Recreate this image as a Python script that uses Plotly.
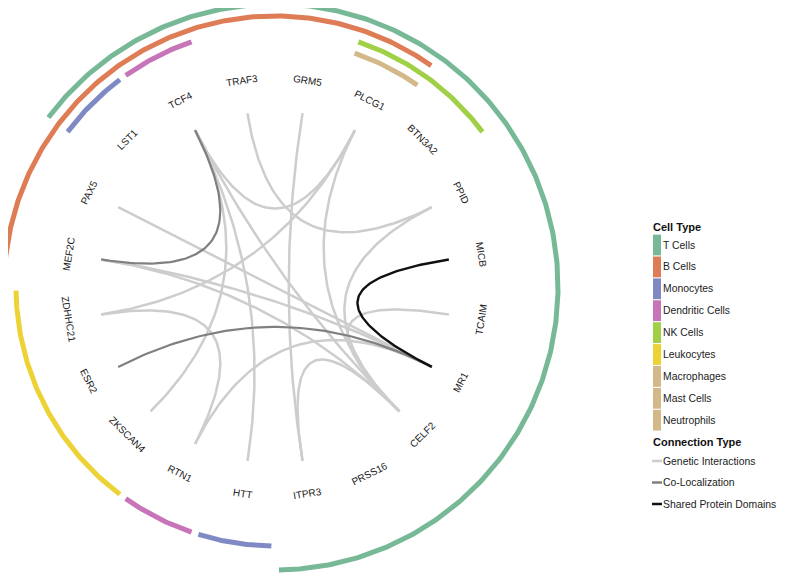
import numpy as np
import plotly.graph_objects as go

# ---------------- data ----------------
genes = ["GRM5", "PLCG1", "BTN3A2", "PPID", "MICB", "TCAIM", "MR1", "CELF2", "PRSS16", "ITPR3",
         "HTT", "RTN1", "ZKSCAN4", "ESR2", "ZDHHC21", "MEF2C", "PAX5", "LST1", "TCF4", "TRAF3"]

cell_types = ["T Cells", "B Cells", "Monocytes", "Dendritic Cells", "NK Cells",
              "Leukocytes", "Macrophages", "Mast Cells", "Neutrophils"]
t_cells = ["LST1", "TCF4", "TRAF3", "GRM5", "PLCG1", "BTN3A2", "PPID", "MICB", "TCAIM",
           "MR1", "CELF2", "PRSS16", "ITPR3"]
b_cells = ["MEF2C", "PAX5", "LST1", "TCF4", "TRAF3", "GRM5", "PLCG1"]
monocytes = ["LST1", "HTT"]
dendritic = ["TCF4", "RTN1"]
nk_cells = ["PLCG1", "BTN3A2"]
leukocytes = ["ZKSCAN4", "ESR2", "ZDHHC21"]
macrophages = ["PLCG1"]
mast_cells = []
neutrophils = []
cell_members = [t_cells, b_cells, monocytes, dendritic, nk_cells, leukocytes,
                macrophages, mast_cells, neutrophils]

connection_types = ["Genetic Interactions", "Co-Localization", "Shared Protein Domains"]
genetic_src = ["TCF4", "TRAF3", "PPID", "TCAIM", "GRM5", "ITPR3", "PLCG1", "ZDHHC21",
               "PAX5", "MEF2C", "MEF2C", "ZDHHC21", "ZKSCAN4", "TCF4", "TCF4", "RTN1"]
genetic_dst = ["PLCG1", "PPID", "CELF2", "CELF2", "ITPR3", "CELF2", "CELF2", "PLCG1",
               "MR1", "CELF2", "MR1", "RTN1", "TCF4", "CELF2", "HTT", "MR1"]
coloc_src = ["TCF4", "ESR2"]
coloc_dst = ["MEF2C", "MR1"]
shared_src = ["MICB"]
shared_dst = ["MR1"]
edge_sets = [(genetic_src, genetic_dst), (coloc_src, coloc_dst), (shared_src, shared_dst)]

# ---------------- styles ----------------
FONT = "Liberation Sans, Arial, Helvetica, sans-serif"
cell_colors = ["#77b996", "#de7c55", "#7f8ac4", "#c874b9", "#9fd046",
               "#edd236", "#d3b98a", "#d3b98a", "#d3b98a"]
ring_radius = {"T Cells": 283, "B Cells": 271, "Monocytes": 259, "Dendritic Cells": 259,
               "NK Cells": 259, "Leukocytes": 259, "Macrophages": 247,
               "Mast Cells": 235, "Neutrophils": 223}
conn_colors = ["#cdcdcd", "#808080", "#111111"]
conn_widths = [2.5, 2.2, 2.4]
R_EDGE = 176
R_LABEL = 209
PAGE_W, PAGE_H = 789, 574
OFF = 8                      # page body margin
W, H = PAGE_W - OFF, PAGE_H - OFF
CX, CY = 275, 287            # circle centre in page pixels

n = len(genes)
step = 360.0 / n
gidx = {g: i for i, g in enumerate(genes)}


def ang(i):
    return step / 2 + step * i


def xy(r, a_deg):
    a = np.radians(a_deg)
    return r * np.sin(a), r * np.cos(a)


fig = go.Figure()

# ---------- edges (quadratic Bezier via centre) ----------
t = np.linspace(0, 1, 80)
for k, (src, dst) in enumerate(edge_sets):
    for s, d in zip(src, dst):
        x0, y0 = xy(R_EDGE, ang(gidx[s]))
        x2, y2 = xy(R_EDGE, ang(gidx[d]))
        bx = (1 - t) ** 2 * x0 + t ** 2 * x2
        by = (1 - t) ** 2 * y0 + t ** 2 * y2
        fig.add_trace(go.Scatter(x=bx, y=by, mode="lines",
                                 line=dict(color=conn_colors[k], width=conn_widths[k]),
                                 hoverinfo="skip", showlegend=False))

# ---------- cell-type arcs ----------
PAD = 0.8
for ct, members, col in zip(cell_types, cell_members, cell_colors):
    if not members:
        continue
    inset = [False] * n
    for g in members:
        inset[gidx[g]] = True
    runs = []
    if all(inset):
        runs.append((0, n - 1))
    else:
        start0 = inset.index(False)
        cur = None
        for i in range(n):
            j = (start0 + 1 + i) % n
            if inset[j]:
                if cur is None:
                    cur = [j, j]
                else:
                    cur[1] = j
            else:
                if cur is not None:
                    runs.append(tuple(cur))
                    cur = None
        if cur is not None:
            runs.append(tuple(cur))
    r = ring_radius[ct]
    for a_i, b_i in runs:
        a0 = ang(a_i) - step / 2 + PAD
        a1 = ang(b_i) + step / 2 - PAD
        if a1 < a0:
            a1 += 360
        aa = np.linspace(a0, a1, max(20, int((a1 - a0) * 2)))
        ax, ay = xy(r, aa)
        fig.add_trace(go.Scatter(x=ax, y=ay, mode="lines",
                                 line=dict(color=col, width=5),
                                 hoverinfo="skip", showlegend=False))

# ---------- gene labels ----------
annotations = []
for i, g in enumerate(genes):
    a = ang(i)
    lx, ly = xy(R_LABEL, a)
    if a <= 90:
        rot = a
    elif a <= 270:
        rot = a - 180
    else:
        rot = a - 360
    annotations.append(dict(x=lx, y=ly, text=g, showarrow=False, textangle=rot,
                            xanchor="center", yanchor="middle",
                            font=dict(family=FONT, size=10, color="#1a1a1a")))


# ---------- legend (drawn in page-pixel space) ----------
def px(x):
    return x - CX


def py(y):
    return CY - y


shapes = []
LEG_X = 653
TXT_X = 661
LEG_FS = 10.4
annotations.append(dict(x=px(LEG_X - 2), y=py(227), text="<b>Cell Type</b>", showarrow=False,
                        xanchor="left", yanchor="middle",
                        font=dict(family=FONT, size=11, color="#111111")))
for k, (ct, col) in enumerate(zip(cell_types, cell_colors)):
    cy = 245 + 21.9 * k
    shapes.append(dict(type="rect", xref="x", yref="y", x0=px(LEG_X), x1=px(LEG_X + 8),
                       y0=py(cy + 10.4), y1=py(cy - 10.4), fillcolor=col, line=dict(width=0)))
    annotations.append(dict(x=px(TXT_X), y=py(cy), text=ct, showarrow=False,
                            xanchor="left", yanchor="middle",
                            font=dict(family=FONT, size=LEG_FS, color="#222222")))
annotations.append(dict(x=px(LEG_X - 2), y=py(442), text="<b>Connection Type</b>", showarrow=False,
                        xanchor="left", yanchor="middle",
                        font=dict(family=FONT, size=11, color="#111111")))
for k, (cn, col) in enumerate(zip(connection_types, conn_colors)):
    cy = 461 + 21.5 * k
    shapes.append(dict(type="line", xref="x", yref="y", x0=px(LEG_X - 1), x1=px(LEG_X + 9),
                       y0=py(cy), y1=py(cy), line=dict(color=col, width=2.5)))
    annotations.append(dict(x=px(TXT_X), y=py(cy), text=cn, showarrow=False,
                            xanchor="left", yanchor="middle",
                            font=dict(family=FONT, size=LEG_FS, color="#222222")))

fig.update_layout(
    width=W, height=H,
    margin=dict(l=0, r=0, t=0, b=0),
    paper_bgcolor="white", plot_bgcolor="white",
    xaxis=dict(range=[OFF - CX, PAGE_W - CX], visible=False, fixedrange=True),
    yaxis=dict(range=[CY - PAGE_H, CY - OFF], visible=False, fixedrange=True),
    annotations=annotations, shapes=shapes, showlegend=False,
)

fig.write_html("out.html")
